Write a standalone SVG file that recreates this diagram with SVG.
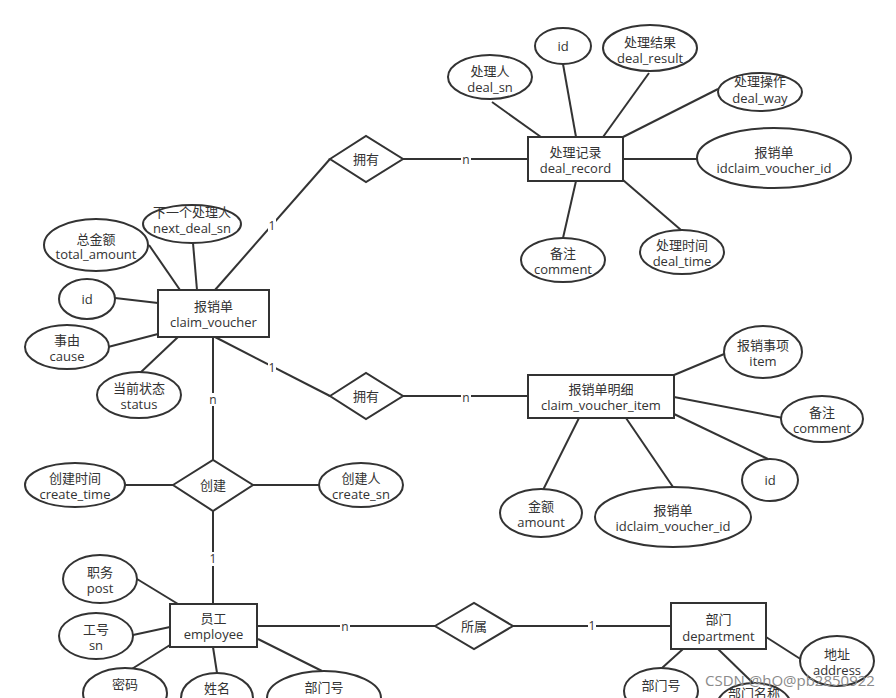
<svg xmlns="http://www.w3.org/2000/svg" width="896" height="698" viewBox="0 0 896 698">
<style>
.e{fill:#fff;stroke:#333;stroke-width:2}
.r{fill:#fff;stroke:#333;stroke-width:2}
.d{fill:#fff;stroke:#333;stroke-width:2}
.l{stroke:#333;stroke-width:2;fill:none}
.bg{fill:#fff}
text{font-family:"Open Sans","Noto Sans CJK SC",sans-serif;font-size:13px;fill:#333;text-anchor:middle}
.c{font-size:12px}
.wm{font-size:15px;fill:#8a8a8a;text-anchor:start}
</style>
<rect width="896" height="698" fill="#fff"/>
<g id="connectors">
<line class="l" x1="492" y1="102" x2="541" y2="137"/>
<line class="l" x1="563" y1="64" x2="576" y2="137"/>
<line class="l" x1="649" y1="73" x2="603" y2="137"/>
<line class="l" x1="718" y1="89" x2="623" y2="137"/>
<line class="l" x1="623" y1="159" x2="697" y2="159"/>
<line class="l" x1="576" y1="181" x2="563" y2="238"/>
<line class="l" x1="623" y1="180" x2="681" y2="230"/>
<line class="l" x1="215" y1="290" x2="330" y2="159"/>
<line class="l" x1="403" y1="159" x2="528" y2="159"/>
<line class="l" x1="215" y1="337" x2="330" y2="396"/>
<line class="l" x1="403" y1="396" x2="528" y2="396"/>
<line class="l" x1="213" y1="337" x2="213" y2="460"/>
<line class="l" x1="213" y1="511" x2="213" y2="604"/>
<line class="l" x1="124" y1="485" x2="173" y2="485"/>
<line class="l" x1="253" y1="485" x2="319" y2="485"/>
<line class="l" x1="257" y1="626" x2="435" y2="626"/>
<line class="l" x1="513" y1="626" x2="671" y2="626"/>
<line class="l" x1="193" y1="243" x2="197" y2="290"/>
<line class="l" x1="149" y1="245" x2="180" y2="290"/>
<line class="l" x1="115" y1="298" x2="158" y2="303"/>
<line class="l" x1="108" y1="347" x2="158" y2="334"/>
<line class="l" x1="140" y1="373" x2="178" y2="337"/>
<line class="l" x1="674" y1="375" x2="729" y2="352"/>
<line class="l" x1="674" y1="397" x2="783" y2="418"/>
<line class="l" x1="674" y1="414" x2="768" y2="459"/>
<line class="l" x1="579" y1="418" x2="543" y2="490"/>
<line class="l" x1="626" y1="418" x2="673" y2="487"/>
<line class="l" x1="137" y1="579" x2="178" y2="604"/>
<line class="l" x1="133" y1="635" x2="170" y2="627"/>
<line class="l" x1="127" y1="672" x2="170" y2="645"/>
<line class="l" x1="213" y1="647" x2="217" y2="673"/>
<line class="l" x1="258" y1="639" x2="322" y2="671"/>
<line class="l" x1="766" y1="637" x2="802" y2="660"/>
<line class="l" x1="683" y1="649" x2="662" y2="668"/>
<line class="l" x1="718" y1="649" x2="753" y2="683"/>
<rect class="bg" x="268" y="219" width="8" height="14"/><text class="c" x="272" y="230">1</text>
<rect class="bg" x="461" y="153" width="10" height="13"/><text class="c" x="466" y="164">n</text>
<rect class="bg" x="268" y="361" width="8" height="14"/><text class="c" x="272" y="372">1</text>
<rect class="bg" x="461" y="391" width="10" height="13"/><text class="c" x="466" y="402">n</text>
<rect class="bg" x="208" y="393" width="10" height="13"/><text class="c" x="213" y="404">n</text>
<rect class="bg" x="209" y="552" width="8" height="14"/><text class="c" x="213" y="563">1</text>
<rect class="bg" x="340" y="620" width="10" height="13"/><text class="c" x="345" y="631">n</text>
<rect class="bg" x="588" y="619" width="8" height="14"/><text class="c" x="592" y="630">1</text>
</g>
<g id="deal_record"><rect class="r" x="528" y="137" width="95" height="44"/><text x="575.5" y="157">处理记录</text><text x="575.5" y="173">deal_record</text></g>
<g id="attr_deal_sn"><ellipse class="e" cx="490" cy="77" rx="42" ry="22"/><text x="490" y="76">处理人</text><text x="490" y="92">deal_sn</text></g>
<g id="attr_dr_id"><ellipse class="e" cx="563" cy="46" rx="28" ry="18"/><text x="563" y="51">id</text></g>
<g id="attr_deal_result"><ellipse class="e" cx="650" cy="48" rx="47" ry="23"/><text x="650" y="47">处理结果</text><text x="650" y="63">deal_result</text></g>
<g id="attr_deal_way"><ellipse class="e" cx="760" cy="92" rx="42" ry="19"/><text x="760" y="86">处理操作</text><text x="760" y="103">deal_way</text></g>
<g id="attr_dr_cvid"><ellipse class="e" cx="774" cy="158" rx="77" ry="30"/><text x="774" y="157">报销单</text><text x="774" y="173">idclaim_voucher_id</text></g>
<g id="attr_dr_comment"><ellipse class="e" cx="563" cy="260" rx="42" ry="22"/><text x="563" y="258">备注</text><text x="563" y="274">comment</text></g>
<g id="attr_deal_time"><ellipse class="e" cx="682" cy="252" rx="42" ry="22"/><text x="682" y="250">处理时间</text><text x="682" y="266">deal_time</text></g>
<g id="rel_own1"><polygon class="d" points="330,159 366,136 403,159 366,182"/><text x="366" y="164">拥有</text></g>
<g id="rel_own2"><polygon class="d" points="330,396 366,373 403,396 366,419"/><text x="366" y="401">拥有</text></g>
<g id="claim_voucher"><rect class="r" x="158" y="290" width="111" height="47"/><text x="213.5" y="311">报销单</text><text x="213.5" y="327">claim_voucher</text></g>
<g id="attr_next_deal_sn"><ellipse class="e" cx="192" cy="224" rx="49" ry="19"/><text x="192" y="217">下一个处理人</text><text x="192" y="233">next_deal_sn</text></g>
<g id="attr_total_amount"><ellipse class="e" cx="96" cy="245" rx="52" ry="26"/><text x="96" y="244">总金额</text><text x="96" y="259">total_amount</text></g>
<g id="attr_cv_id"><ellipse class="e" cx="87" cy="299" rx="28" ry="20"/><text x="87" y="304">id</text></g>
<g id="attr_cause"><ellipse class="e" cx="67" cy="347" rx="42" ry="22"/><text x="67" y="345">事由</text><text x="67" y="361">cause</text></g>
<g id="attr_status"><ellipse class="e" cx="139" cy="395" rx="42" ry="23"/><text x="139" y="393">当前状态</text><text x="139" y="409">status</text></g>
<g id="claim_voucher_item"><rect class="r" x="528" y="375" width="146" height="43"/><text x="601" y="394">报销单明细</text><text x="601" y="410">claim_voucher_item</text></g>
<g id="attr_item"><ellipse class="e" cx="763" cy="352" rx="39" ry="26"/><text x="763" y="350">报销事项</text><text x="763" y="366">item</text></g>
<g id="attr_cvi_comment"><ellipse class="e" cx="822" cy="419" rx="41" ry="23"/><text x="822" y="417">备注</text><text x="822" y="433">comment</text></g>
<g id="attr_cvi_id"><ellipse class="e" cx="770" cy="480" rx="28" ry="21"/><text x="770" y="485">id</text></g>
<g id="attr_amount"><ellipse class="e" cx="541" cy="513" rx="41" ry="24"/><text x="541" y="511">金额</text><text x="541" y="527">amount</text></g>
<g id="attr_cvi_cvid"><ellipse class="e" cx="673" cy="517" rx="78" ry="30"/><text x="673" y="515">报销单</text><text x="673" y="531">idclaim_voucher_id</text></g>
<g id="rel_create"><polygon class="d" points="173,485 213,460 253,485 213,511"/><text x="213" y="490">创建</text></g>
<g id="attr_create_time"><ellipse class="e" cx="75" cy="485" rx="50" ry="22"/><text x="75" y="483">创建时间</text><text x="75" y="499">create_time</text></g>
<g id="attr_create_sn"><ellipse class="e" cx="361" cy="485" rx="42" ry="22"/><text x="361" y="483">创建人</text><text x="361" y="499">create_sn</text></g>
<g id="employee"><rect class="r" x="170" y="604" width="87" height="43"/><text x="213.5" y="623">员工</text><text x="213.5" y="639">employee</text></g>
<g id="attr_post"><ellipse class="e" cx="100" cy="579" rx="37" ry="24"/><text x="100" y="577">职务</text><text x="100" y="593">post</text></g>
<g id="attr_sn"><ellipse class="e" cx="96" cy="636" rx="37" ry="23"/><text x="96" y="634">工号</text><text x="96" y="650">sn</text></g>
<g id="attr_password"><ellipse class="e" cx="125" cy="693" rx="42" ry="25"/><text x="125" y="689">密码</text></g>
<g id="attr_name"><ellipse class="e" cx="217" cy="698" rx="36" ry="25"/><text x="217" y="693">姓名</text></g>
<g id="attr_emp_dept"><ellipse class="e" cx="324" cy="698" rx="57" ry="27"/><text x="324" y="692">部门号</text></g>
<g id="rel_belong"><polygon class="d" points="435,626 474,603 513,626 474,649"/><text x="474" y="631">所属</text></g>
<g id="department"><rect class="r" x="671" y="603" width="95" height="46"/><text x="718.5" y="624">部门</text><text x="718.5" y="641">department</text></g>
<g id="attr_address"><ellipse class="e" cx="837" cy="661" rx="37" ry="25"/><text x="837" y="659">地址</text><text x="837" y="675">address</text></g>
<g id="attr_dept_no"><ellipse class="e" cx="661" cy="691" rx="37" ry="23"/><text x="661" y="690">部门号</text></g>
<g id="attr_dept_name"><ellipse class="e" cx="754" cy="706" rx="37" ry="23"/><text x="754" y="698">部门名称</text></g>
<text class="wm" x="705" y="686">CSDN @hO@pb2850922</text>
</svg>
